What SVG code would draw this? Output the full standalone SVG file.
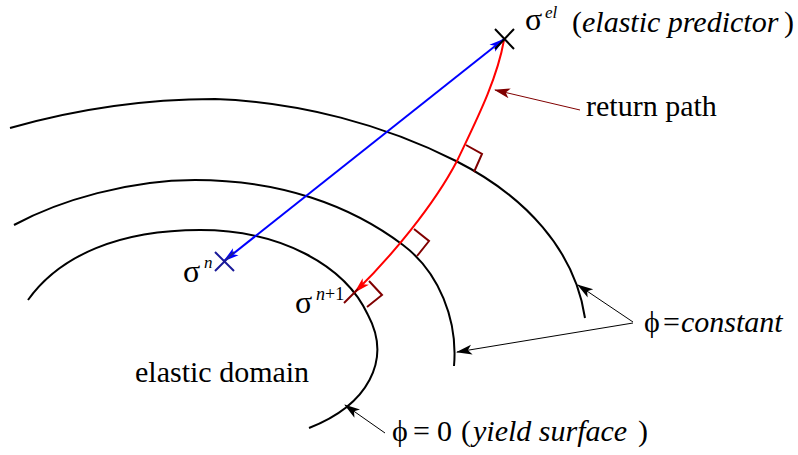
<svg xmlns="http://www.w3.org/2000/svg" width="798" height="455" viewBox="0 0 798 455">
<defs>
<marker id="ab" markerUnits="userSpaceOnUse" markerWidth="16" markerHeight="12" viewBox="0 0 16 12" refX="15" refY="6" orient="auto"><path d="M0,1 L16,6 L0,11 L4,6 Z" fill="#000"/></marker>
<marker id="ar" markerUnits="userSpaceOnUse" markerWidth="16" markerHeight="12" viewBox="0 0 16 12" refX="15" refY="6" orient="auto"><path d="M0,1 L16,6 L0,11 L4,6 Z" fill="#800000"/></marker>
<marker id="abl" markerUnits="userSpaceOnUse" markerWidth="16" markerHeight="12" viewBox="0 0 16 12" refX="15" refY="6" orient="auto-start-reverse"><path d="M0,1.5 L16,6 L0,10.5 L4,6 Z" fill="#0000ff"/></marker>
<marker id="ard" markerUnits="userSpaceOnUse" markerWidth="16" markerHeight="12" viewBox="0 0 16 12" refX="15" refY="6" orient="auto"><path d="M0,1.5 L16,6 L0,10.5 L4,6 Z" fill="#ff0000"/></marker>
</defs>
<rect width="798" height="455" fill="#fff"/>

<g id="surfaces" fill="none" stroke="#000" stroke-width="2">
<path id="outer" d="M10,128 C80,108 150,99 215,99 C300,102 385,125 456,161 C525,196 575,250 585,318"/>
<path id="middle" d="M14,225 C60,200 130,180 195,180 C280,180 350,205 403,245 C439,272 458,320 454,366"/>
<path id="inner" d="M28,300 C60,255 120,230 200,230 C280,230 345,265 368,315 C392,360 368,405 309,428"/>
</g>

<g id="connectors" fill="none">
<line x1="224" y1="261" x2="504" y2="39" stroke="#0000ff" stroke-width="2" marker-start="url(#abl)" marker-end="url(#abl)"/>
<path d="M504,40 C497,80 476,121 457,161 C434,205 391,257 355,292" stroke="#ff0000" stroke-width="2" marker-end="url(#ard)"/>
<line x1="580" y1="110" x2="495" y2="90" stroke="#800000" stroke-width="1" marker-end="url(#ar)"/>
<line x1="633" y1="322" x2="578" y2="285" stroke="#000" stroke-width="1" marker-end="url(#ab)"/>
<line x1="633" y1="323" x2="457" y2="352" stroke="#000" stroke-width="1" marker-end="url(#ab)"/>
<line x1="385" y1="433" x2="345" y2="405" stroke="#000" stroke-width="1" marker-end="url(#ab)"/>
</g>

<g id="right-angles" fill="none" stroke="#800000" stroke-width="2">
<polyline points="466,145 482,154 474,172"/>
<polyline points="414,229 429,241 417,256"/>
<polyline points="369,281 382,295 367,307"/>
</g>

<g id="sigma-el">
<path d="M495,29 L514,49 M495,49 L514,29" stroke="#000" stroke-width="2"/>
<text x="525" y="30" font-family="Tinos, Liberation Serif, serif" font-size="32">σ</text>
<text x="545" y="18" font-family="Tinos, Liberation Serif, serif" font-size="17" font-style="italic">el</text>
<text x="572" y="32" font-family="Tinos, Liberation Serif, serif" font-size="30">(</text>
<text x="582" y="32" font-family="Tinos, Liberation Serif, serif" font-size="30" font-style="italic">elastic predictor</text>
<text x="784" y="32" font-family="Tinos, Liberation Serif, serif" font-size="30">)</text>
</g>

<g id="sigma-n">
<path d="M215,252 L234,271 M215,271 L234,252" stroke="#1a1a99" stroke-width="2"/>
<text x="183" y="282" font-family="Tinos, Liberation Serif, serif" font-size="32">σ</text>
<text x="204" y="268" font-family="Tinos, Liberation Serif, serif" font-size="17" font-style="italic">n</text>
</g>

<g id="sigma-n1">
<line x1="344" y1="303" x2="358" y2="289" stroke="#800000" stroke-width="2"/>
<text x="295" y="313" font-family="Tinos, Liberation Serif, serif" font-size="32">σ</text>
<text x="316" y="300" font-family="Tinos, Liberation Serif, serif" font-size="18"><tspan font-style="italic">n</tspan>+1</text>
</g>

<g id="return-path">
<text x="586" y="116" font-family="Tinos, Liberation Serif, serif" font-size="30">return path</text>
</g>

<g id="elastic-domain">
<text x="135" y="382" font-family="Tinos, Liberation Serif, serif" font-size="30">elastic domain</text>
</g>

<g id="phi-constant">
<text x="644" y="332" font-family="Tinos, Liberation Serif, serif" font-size="30">ϕ</text>
<text x="663" y="332" font-family="Tinos, Liberation Serif, serif" font-size="30">=</text>
<text x="681" y="332" font-family="Tinos, Liberation Serif, serif" font-size="30" font-style="italic">constant</text>
</g>

<g id="phi-zero">
<text x="392" y="441" font-family="Tinos, Liberation Serif, serif" font-size="30">ϕ</text>
<text x="413" y="441" font-family="Tinos, Liberation Serif, serif" font-size="30">=</text>
<text x="437" y="441" font-family="Tinos, Liberation Serif, serif" font-size="30">0</text>
<text x="461" y="441" font-family="Tinos, Liberation Serif, serif" font-size="30">(</text>
<text x="473" y="441" font-family="Tinos, Liberation Serif, serif" font-size="30" font-style="italic">yield surface</text>
<text x="638" y="441" font-family="Tinos, Liberation Serif, serif" font-size="30">)</text>
</g>
</svg>
